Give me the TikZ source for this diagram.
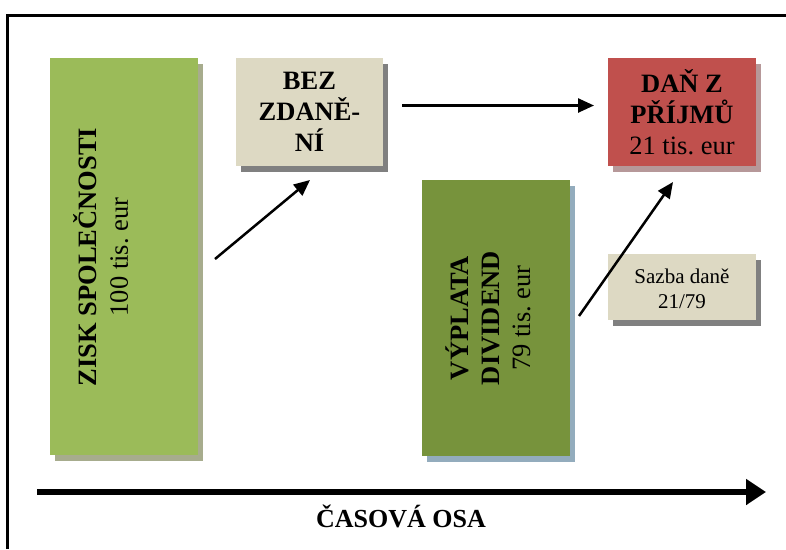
\documentclass[tikz,border=0pt]{standalone}
\usepackage{fontspec}
\setmainfont{Liberation Serif}
\usetikzlibrary{arrows.meta,shadows,calc}
\frenchspacing

\definecolor{leafgreen}{HTML}{9BBB59}
\definecolor{leafshadow}{HTML}{A7AC8D}
\definecolor{olivegreen}{HTML}{77933C}
\definecolor{oliveshadow}{HTML}{93ACBD}
\definecolor{sand}{HTML}{DDD9C3}
\definecolor{sandshadow}{HTML}{808080}
\definecolor{brick}{HTML}{C0504D}
\definecolor{brickshadow}{HTML}{B69899}

\begin{document}
\begin{tikzpicture}[x=1pt,y=-1pt,
  panel/.style={rectangle, inner sep=0pt, outer sep=0pt, draw=none, align=center},
  shade/.style={drop shadow={fill=#1, opacity=1, shadow xshift=5pt, shadow yshift=-5.5pt}},
  bigtext/.style={font=\fontsize{26.5}{31}\selectfont, align=center, inner sep=0pt},
  smalltext/.style={font=\fontsize{21}{25}\selectfont, align=center, inner sep=0pt},
  flow/.style={line width=2.5pt, -{Triangle[length=16pt,width=14pt]}},
  axis/.style={line width=6pt, -{Triangle[length=20pt,width=25pt]}}]

\useasboundingbox (0,0) rectangle (786,549);

% outer frame (open to the right and bottom)
\draw[line width=2.2pt, black] (7.5,549) -- (7.5,15.5) -- (786,15.5);

% boxes
\node[panel, fill=leafgreen, shade=leafshadow, minimum width=148pt, minimum height=397pt]
  (zisk) at (124,256.5) {};
\node[panel, fill=sand, shade=sandshadow, minimum width=147pt, minimum height=108pt, bigtext]
  (bez) at (309.5,112) {\textbf{BEZ}\\\textbf{ZDANĚ-}\\\textbf{NÍ}};
\node[panel, fill=brick, shade=brickshadow, minimum width=148pt, minimum height=108pt, bigtext]
  (dan) at (682,112) {\textbf{DAŇ Z}\\\textbf{PŘÍJMŮ}\\21 tis. eur};
\node[panel, fill=olivegreen, shade=oliveshadow, minimum width=148pt, minimum height=276pt]
  (div) at (496,318) {};
\node[panel, fill=sand, shade=sandshadow, minimum width=148pt, minimum height=66pt]
  (sazba) at (682,287) {};

% labels of the tall boxes and the rate box
\node[bigtext, rotate=90] (ziskt) at ($(zisk.center)+(-23,0.5)$)
  {\textbf{ZISK SPOLEČNOSTI}\\100 tis. eur};
\node[bigtext, rotate=90] (divt) at ($(div.center)+(-8,0)$)
  {\textbf{VÝPLATA}\\\textbf{DIVIDEND}\\79 tis. eur};
\node[smalltext] (sazbat) at ($(sazba.center)+(0,2)$) {Sazba daně\\21/79};

% connector end points
\coordinate (a1s) at ($(zisk.east)+(17,2.5)$);
\coordinate (a1e) at ($(bez.south)+(0.5,14)$);
\coordinate (a2s) at ($(bez.east)+(19,-6.5)$);
\coordinate (a2e) at ($(dan.west)+(-14,-6.5)$);
\coordinate (a3s) at ($(div.east)+(9,-2)$);
\coordinate (a3e) at ($(dan.south)+(-9,16)$);

\draw[flow] (a1s) -- (a1e);
\draw[flow] (a2s) -- (a2e);
\draw[flow] (a3s) -- (a3e);

% time axis
\coordinate (ax0) at (37,492);
\coordinate (ax1) at (766,492);
\draw[axis] (ax0) -- (ax1);
\node[font=\fontsize{26}{31}\selectfont\bfseries, anchor=base, inner sep=0pt]
  (time) at (401,527) {ČASOVÁ OSA};

\end{tikzpicture}
\end{document}
